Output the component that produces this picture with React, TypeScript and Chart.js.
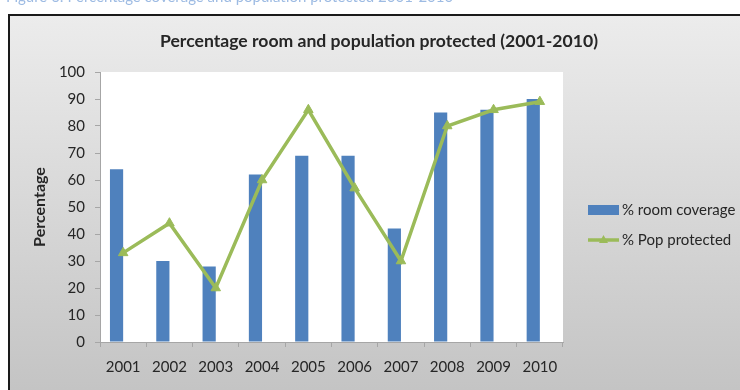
import React, { useEffect, useRef } from 'react';
import { Chart, registerables } from 'chart.js';

Chart.register(...registerables);

// ---- data ----
const years = ['2001', '2002', '2003', '2004', '2005', '2006', '2007', '2008', '2009', '2010'];
const roomCoverage = [64, 30, 28, 62, 69, 69, 42, 85, 86, 90];
const popProtected = [33, 44, 20, 60, 86, 57, 30, 80, 86, 89];
// second clustered slot per year is left empty, so each bar sits in the left half of its year
const emptySlot: (number | null)[] = years.map(() => null);
const seriesNames = ['% room coverage', '% Pop protected'];

const yMin = 0;
const yMax = 100;
const yStep = 10;

const chartTitle = 'Percentage room and population protected (2001-2010)';
const yAxisTitle = 'Percentage';
const figureCaption = 'Figure 6: Percentage coverage and population protected 2001-2010';

// ---- styling ----
const FONT = 'Lato, "Open Sans", "DejaVu Sans", sans-serif';
const BAR_BLUE = '#4F81BD';
const LINE_GREEN = '#9BBB59';
const TEXT = '#262626';
const AXIS_GREY = '#a6a6a6';

const W = 740;
const H = 390;

const decorPlugin = {
  id: 'decor',
  beforeDraw(chart: any) {
    const { ctx, chartArea } = chart;
    ctx.save();
    ctx.fillStyle = '#ffffff';
    ctx.fillRect(0, 0, W, H);

    // caption line above the frame, mostly running off the top edge
    ctx.fillStyle = '#9dbbe3';
    ctx.font = `15px ${FONT}`;
    ctx.textAlign = 'left';
    ctx.textBaseline = 'alphabetic';
    ctx.fillText(figureCaption, 6, 2);

    // grey gradient panel with dark frame
    const g = ctx.createLinearGradient(0, 15, 0, H);
    g.addColorStop(0, '#ececec');
    g.addColorStop(1, '#c4c4c4');
    ctx.fillStyle = g;
    ctx.fillRect(9, 15, W, H);
    ctx.strokeStyle = '#1a1a1a';
    ctx.lineWidth = 2;
    ctx.strokeRect(9, 15, W + 20, H + 20);

    // white plot area
    ctx.fillStyle = '#ffffff';
    ctx.fillRect(chartArea.left, chartArea.top, chartArea.right - chartArea.left, chartArea.bottom - chartArea.top);
    ctx.restore();
  },
  afterDraw(chart: any) {
    const { ctx } = chart;
    ctx.save();
    // title
    ctx.fillStyle = TEXT;
    ctx.font = `bold 17.6px ${FONT}`;
    ctx.textAlign = 'center';
    ctx.textBaseline = 'middle';
    ctx.fillText(chartTitle, 379, 41);

    // legend
    const lx = 588;
    const ds = chart.data.datasets;
    ctx.font = `15px ${FONT}`;
    ctx.textAlign = 'left';
    ctx.fillStyle = ds[0].backgroundColor;
    ctx.fillRect(lx, 205, 31, 10);
    ctx.fillStyle = TEXT;
    ctx.fillText(ds[0].label, lx + 34, 210);

    const ly = 240;
    ctx.strokeStyle = ds[2].borderColor;
    ctx.lineWidth = 3.5;
    ctx.beginPath();
    ctx.moveTo(lx, ly);
    ctx.lineTo(lx + 31, ly);
    ctx.stroke();
    ctx.fillStyle = ds[2].backgroundColor;
    ctx.beginPath();
    ctx.moveTo(lx + 15.5, ly - 5);
    ctx.lineTo(lx + 20, ly + 3);
    ctx.lineTo(lx + 11, ly + 3);
    ctx.closePath();
    ctx.fill();
    ctx.fillStyle = TEXT;
    ctx.fillText(ds[2].label, lx + 34, ly);
    ctx.restore();
  },
};

export default function App() {
  const canvasRef = useRef<HTMLCanvasElement | null>(null);

  useEffect(() => {
    const canvas = canvasRef.current;
    if (!canvas) return;
    const chart = new Chart(canvas, {
      type: 'bar',
      data: {
        labels: years,
        datasets: [
          {
            type: 'bar',
            label: seriesNames[0],
            data: roomCoverage,
            backgroundColor: BAR_BLUE,
            borderWidth: 0,
            categoryPercentage: 0.57,
            barPercentage: 1,
            order: 2,
          },
          {
            type: 'bar',
            label: '',
            data: emptySlot,
            backgroundColor: 'rgba(0,0,0,0)',
            categoryPercentage: 0.57,
            barPercentage: 1,
            order: 3,
          },
          {
            type: 'line',
            label: seriesNames[1],
            data: popProtected,
            borderColor: LINE_GREEN,
            backgroundColor: LINE_GREEN,
            borderWidth: 3.5,
            tension: 0,
            pointStyle: 'triangle',
            pointRadius: 5.5,
            pointBorderWidth: 1,
            pointBorderColor: LINE_GREEN,
            pointBackgroundColor: LINE_GREEN,
            order: 1,
          },
        ] as any,
      },
      options: {
        responsive: false,
        animation: false,
        layout: { padding: { left: 0, top: 72, right: W - 563, bottom: 0 } },
        plugins: {
          legend: { display: false },
          title: { display: false },
          tooltip: { enabled: false },
        },
        scales: {
          x: {
            offset: true,
            afterFit(scale: any) {
              scale.height = H - 342;
            },
            grid: {
              offset: true,
              drawOnChartArea: false,
              drawTicks: true,
              tickLength: 5,
              color: AXIS_GREY,
            },
            border: { display: true, color: AXIS_GREY, width: 1 },
            ticks: {
              color: TEXT,
              font: { family: FONT, size: 15 },
              padding: 11,
              maxRotation: 0,
            },
          },
          y: {
            min: yMin,
            max: yMax,
            afterFit(scale: any) {
              scale.width = 100;
            },
            grid: {
              drawOnChartArea: false,
              drawTicks: true,
              tickLength: 5,
              color: AXIS_GREY,
            },
            border: { display: true, color: AXIS_GREY, width: 1 },
            ticks: {
              stepSize: yStep,
              color: TEXT,
              font: { family: FONT, size: 15 },
              padding: 10,
            },
            title: {
              display: true,
              text: yAxisTitle,
              color: TEXT,
              font: { family: FONT, size: 16, weight: 'bold' },
              padding: { top: 30, bottom: 0 },
            },
          },
        },
      },
      plugins: [decorPlugin],
    });
    return () => chart.destroy();
  }, []);

  return (
    <div style={{ position: 'absolute', left: 0, top: 0, width: W, height: H }}>
      <canvas ref={canvasRef} width={W} height={H} style={{ display: 'block', width: W, height: H }} />
    </div>
  );
}
